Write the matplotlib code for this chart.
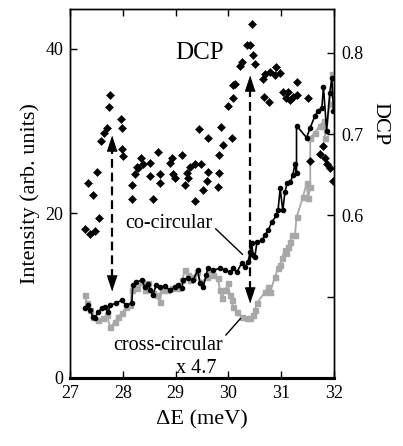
import matplotlib
matplotlib.use("Agg")
import matplotlib.pyplot as plt

plt.rcParams['font.family'] = ['Liberation Serif', 'DejaVu Serif']

# --- Datos ---
# DCP (eje derecho)
dcp_x = [27.28, 27.34, 27.38, 27.43, 27.47, 27.52, 27.55, 27.59, 27.64, 27.70,
         27.74, 27.76, 27.96, 27.98, 27.98, 28.00, 28.17, 28.17, 28.23, 28.26,
         28.29, 28.34, 28.39, 28.52, 28.52, 28.58, 28.67, 28.70, 28.70, 28.89,
         28.93, 28.96, 28.99, 29.12, 29.18, 29.21, 29.24, 29.27, 29.37, 29.37,
         29.45, 29.49, 29.52, 29.59, 29.62, 29.62, 29.81, 29.83, 29.83, 29.86,
         29.89, 30.06, 30.00, 30.09, 30.08, 30.13, 30.22, 30.25, 30.35, 30.40,
         30.44, 30.47, 30.50, 30.66, 30.69, 30.67, 30.76, 30.79, 30.88, 30.91,
         30.98, 31.04, 31.10, 31.13, 31.17, 31.23, 31.29, 31.29, 31.51, 31.55,
         31.73, 31.80, 31.83, 31.86, 31.92, 31.99]
dcp_y = [0.583, 0.640, 0.577, 0.625, 0.581, 0.654, 0.597, 0.691, 0.701, 0.707,
         0.733, 0.748, 0.718, 0.707, 0.682, 0.673, 0.638, 0.620, 0.651, 0.660,
         0.658, 0.671, 0.663, 0.664, 0.648, 0.620, 0.678, 0.651, 0.640, 0.664,
         0.670, 0.651, 0.646, 0.674, 0.637, 0.652, 0.646, 0.660, 0.618, 0.663,
         0.706, 0.663, 0.631, 0.642, 0.654, 0.695, 0.635, 0.652, 0.674, 0.709,
         0.686, 0.695, 0.735, 0.745, 0.761, 0.762, 0.784, 0.789, 0.810, 0.810,
         0.835, 0.797, 0.786, 0.768, 0.774, 0.746, 0.740, 0.777, 0.773, 0.783,
         0.775, 0.752, 0.744, 0.752, 0.742, 0.746, 0.764, 0.748, 0.745, 0.667,
         0.675, 0.685, 0.670, 0.663, 0.658, 0.642]

# co-circular (negro)
co_x = [27.28, 27.34, 27.38, 27.44, 27.47, 27.53, 27.60, 27.66, 27.72, 27.76,
        27.87, 27.98, 28.06, 28.17, 28.19, 28.25, 28.36, 28.42, 28.48, 28.52,
        28.57, 28.63, 28.70, 28.80, 28.89, 28.99, 29.05, 29.12, 29.14, 29.23,
        29.33, 29.42, 29.46, 29.52, 29.58, 29.61, 29.71, 29.84, 29.94, 30.03,
        30.09, 30.16, 30.25, 30.31, 30.37, 30.41, 30.44, 30.47, 30.50, 30.54,
        30.63, 30.69, 30.75, 30.82, 30.91, 30.94, 30.98, 31.03, 31.07, 31.11,
        31.17, 31.22, 31.26, 31.29, 31.29, 31.48, 31.55, 31.64, 31.70, 31.77,
        31.80, 31.86, 31.92, 31.96, 31.99]
co_y = [8.48, 8.85, 8.24, 7.39, 7.27, 8.00, 8.48, 8.61, 8.00, 8.85,
        9.09, 9.45, 8.85, 9.09, 11.27, 11.64, 11.88, 11.03, 11.39, 10.67,
        10.06, 11.27, 11.03, 11.15, 10.67, 11.03, 11.27, 10.91, 11.88, 12.12,
        11.88, 13.09, 11.52, 11.03, 12.48, 13.33, 13.09, 13.33, 13.09, 12.85,
        13.33, 12.85, 13.94, 13.45, 14.06, 15.27, 16.36, 14.91, 14.67, 16.48,
        16.73, 17.33, 17.94, 18.91, 19.76, 20.36, 23.03, 20.36, 22.55, 23.64,
        23.76, 24.61, 26.06, 24.85, 30.67, 29.21, 30.42, 31.88, 32.48, 32.85,
        35.39, 30.06, 34.67, 36.48, 32.48]

# cross-circular x 4.7 (gris)
cross_x = [27.28, 27.32, 27.38, 27.44, 27.53, 27.63, 27.70, 27.76, 27.85, 27.91,
           27.98, 28.07, 28.14, 28.17, 28.26, 28.36, 28.42, 28.48, 28.57, 28.64,
           28.70, 28.74, 28.83, 28.93, 29.05, 29.12, 29.18, 29.23, 29.27, 29.33,
           29.40, 29.49, 29.59, 29.65, 29.71, 29.80, 29.84, 29.87, 29.94, 29.99,
           30.03, 30.06, 30.09, 30.16, 30.25, 30.35, 30.41, 30.47, 30.50, 30.54,
           30.69, 30.75, 30.79, 30.88, 30.94, 30.98, 31.01, 31.07, 31.10, 31.13,
           31.17, 31.20, 31.26, 31.29, 31.41, 31.48, 31.51, 31.55, 31.55, 31.64,
           31.73, 31.81, 31.83, 31.92, 31.96, 31.99]
cross_y = [10.06, 9.09, 8.24, 7.39, 7.03, 7.27, 7.64, 6.18, 6.79, 7.39,
           7.88, 8.61, 8.85, 10.67, 10.91, 11.64, 10.67, 11.52, 10.30, 10.06,
           9.21, 10.67, 10.67, 10.91, 10.91, 11.88, 13.09, 12.48, 11.88, 12.24,
           12.85, 11.64, 12.24, 13.09, 12.48, 12.12, 10.67, 9.70, 10.67, 11.52,
           10.06, 9.45, 8.61, 8.00, 7.39, 7.27, 7.27, 7.64, 8.24, 9.09,
           10.42, 11.03, 10.42, 12.24, 13.33, 13.70, 14.55, 15.52, 15.15, 15.88,
           16.48, 17.33, 17.33, 19.52, 21.94, 23.64, 21.82, 23.15, 29.21, 29.82,
           30.67, 31.27, 29.21, 33.33, 36.97, 34.55]

# flechas discontinuas (x, extremo inferior, extremo superior) en intensidad
arrow_x = [27.79, 30.40]
arrow_lo = [10.67, 9.25]
arrow_hi = [29.45, 36.7]

# --- Figura ---
fig = plt.figure(figsize=(4.03, 4.46), dpi=100)
ax = fig.add_axes([0.1737, 0.1525, 0.6551, 0.8275])
ax2 = ax.twinx()

gray = '#a8a8a8'
ax.plot(cross_x, cross_y, '-s', color=gray, ms=3.6, lw=1.3, zorder=3)
ax.plot(co_x, co_y, '-o', color='k', ms=3.0, lw=1.2, zorder=4)

# flechas: linea discontinua + puntas triangulares
up_head = [(0, 0), (-0.33, -1), (0.33, -1)]
down_head = [(0, 0), (-0.33, 1), (0.33, 1)]
for xa, lo, hi in zip(arrow_x, arrow_lo, arrow_hi):
    ax.plot([xa, xa], [lo + 1.5, hi - 1.5], color='k', lw=1.6,
            linestyle=(0, (4, 2.2)), zorder=5)
    ax.plot([xa], [hi], marker=up_head, ms=21, color='k', zorder=6)
    ax.plot([xa], [lo], marker=down_head, ms=21, color='k', zorder=6)

ax2.plot(dcp_x, dcp_y, 'D', color='k', ms=3.7, mew=0.4, zorder=2)

# textos
ax.text(29.45, 39.5, 'DCP', fontsize=18, ha='center', va='center')
ax.annotate('co-circular', xy=(30.27, 15.0), xytext=(28.88, 18.8),
            fontsize=14.5, ha='center', va='center',
            arrowprops=dict(arrowstyle='-', lw=1.0, color='k',
                            shrinkA=0, shrinkB=0,
                            relpos=(1.0, 0.35)))
ax.annotate('cross-circular', xy=(30.23, 7.24), xytext=(28.86, 3.9),
            fontsize=14.5, ha='center', va='center',
            arrowprops=dict(arrowstyle='-', lw=1.0, color='k',
                            shrinkA=0, shrinkB=0,
                            relpos=(1.0, 0.9)))
ax.text(29.39, 1.17, 'x 4.7', fontsize=14.5, ha='center', va='center')

# ejes
ax.set_xlim(27, 32)
ax.set_ylim(0, 44.85)
ax2.set_ylim(0.4, 0.854)

ax.set_xticks([27, 28, 29, 30, 31, 32])
ax.set_yticks([0, 20, 40])
ax2.set_yticks([0.5, 0.6, 0.7, 0.8])
ax2.set_yticklabels(['', '0.6', '0.7', '0.8'])

ax.tick_params(axis='both', direction='in', length=5, width=1,
               labelsize=13, top=True, right=False, pad=5)
ax2.tick_params(axis='y', direction='in', length=5, width=1,
                labelsize=13, pad=5)

for sp in ['left', 'right', 'top']:
    ax.spines[sp].set_linewidth(1.0)
    ax2.spines[sp].set_linewidth(1.0)
ax.spines['bottom'].set_linewidth(2.2)
ax2.spines['bottom'].set_linewidth(2.2)

ax.set_xlabel('ΔE (meV)', fontsize=16, labelpad=6)
ax.set_ylabel('Intensity (arb. units)', fontsize=16, labelpad=4)
ax2.set_ylabel('DCP', fontsize=16, rotation=270, labelpad=20)
ax2.yaxis.set_label_coords(1.21, 0.69)

fig.savefig('out.png', dpi=100)
